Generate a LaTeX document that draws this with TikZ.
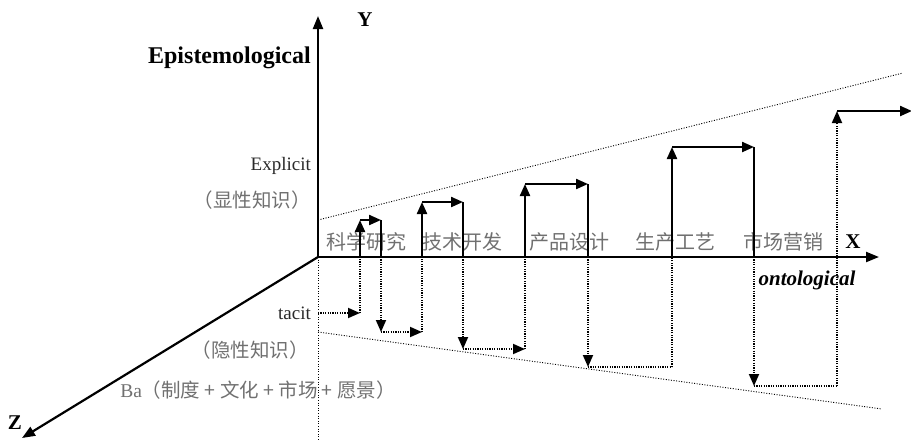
\documentclass[tikz,border=0pt]{standalone}
\usepackage{fontspec}
\setmainfont{Liberation Serif}
\newfontfamily\cjk{Noto Sans CJK SC}
\usetikzlibrary{arrows.meta,positioning}
\definecolor{inkgray}{HTML}{707070}
\definecolor{inkdark}{HTML}{2A2A2A}
\tikzset{
  axis/.style={line width=2.2pt, -{Triangle[length=13pt, width=10pt]}},
  stepline/.style={line width=2.2pt},
  steparrow/.style={line width=2.2pt, -{Triangle[length=12pt, width=10pt]}},
  dotline/.style={line width=1.8pt, dash pattern=on 1.2pt off 1.2pt},
  dotarrow/.style={dotline, -{Triangle[length=12pt, width=10pt]}},
  guide/.style={line width=0.9pt, dash pattern=on 1pt off 1.6pt},
  axislabel/.style={font=\fontsize{21}{24}\selectfont\bfseries, inner sep=0pt},
  latinlabel/.style={font=\fontsize{19}{22}\selectfont, text=inkdark, inner sep=0pt},
  cjklabel/.style={font=\fontsize{19.5}{22}\selectfont\cjk, text=inkgray, inner sep=0pt},
  stagelabel/.style={font=\fontsize{20}{23}\selectfont\cjk, text=inkgray, inner sep=0pt}
}

\begin{document}
\begin{tikzpicture}[x=1pt, y=-1pt]
  \useasboundingbox (0,0) rectangle (911,440);

  % axes and guide lines
  \coordinate (O) at (318,257);
  \coordinate (Ytip) at (318,16);
  \coordinate (Xtip) at (879,257);
  \coordinate (Ztip) at (22,438);
  \coordinate (Obot) at (318,440);
  \coordinate (gu1) at (318,220);
  \coordinate (gu2) at (903,73);
  \coordinate (gl1) at (318,332);
  \coordinate (gl2) at (882,409);

  % step corners
  \coordinate (in1) at (360,313); \coordinate (up1) at (360,257); \coordinate (top1) at (360,220);
  \coordinate (turn1) at (381,220); \coordinate (foot1) at (381,257); \coordinate (low1) at (381,332);
  \coordinate (in2) at (422,332); \coordinate (up2) at (422,257); \coordinate (top2) at (422,202);
  \coordinate (turn2) at (463,202); \coordinate (foot2) at (463,257); \coordinate (low2) at (463,349);
  \coordinate (in3) at (525,349); \coordinate (up3) at (525,257); \coordinate (top3) at (525,184);
  \coordinate (turn3) at (588,184); \coordinate (foot3) at (588,257); \coordinate (low3) at (588,367);
  \coordinate (in4) at (672,367); \coordinate (up4) at (672,257); \coordinate (top4) at (672,147);
  \coordinate (turn4) at (754,147); \coordinate (foot4) at (754,257); \coordinate (low4) at (754,386);
  \coordinate (in5) at (837,386); \coordinate (top5) at (837,111); \coordinate (turn5) at (912,111);

  % labels
  \node[axislabel] (ylab) at (365,20) {Y};
  \node[axislabel] (xlab) at (853,242) {X};
  \node[axislabel] (zlab) at (15,423) {Z};
  \node[axislabel, font=\fontsize{24}{27}\selectfont\bfseries, anchor=east] (episteme) at (311,58) {Epistemological};
  \node[latinlabel, anchor=east] (explicit) at (311,166) {Explicit};
  \node[cjklabel, anchor=east] (explicitcn) at (311,200) {（显性知识）};
  \node[latinlabel, anchor=east] (tacit) at (311,313) {tacit};
  \node[cjklabel, anchor=east] (tacitcn) at (309,350) {（隐性知识）};
  \node[cjklabel] (ba) at (258,390) {{\rmfamily Ba}（制度 + 文化 + 市场 + 愿景）};
  \node[font=\fontsize{21}{24}\selectfont\bfseries\itshape, inner sep=0pt] (onto) at (807,280) {ontological};
  \node[stagelabel] (research) at (366,242) {科学研究};
  \node[stagelabel] (develop) at (462,242) {技术开发};
  \node[stagelabel] (design) at (569,242) {产品设计};
  \node[stagelabel] (process) at (675,242) {生产工艺};
  \node[stagelabel] (market) at (783,242) {市场营销};

  \draw[guide] (gu1) -- (gu2);
  \draw[guide] (gl1) -- (gl2);
  \draw[guide] (O) -- (Obot);

  \draw[axis] (O) -- (Ytip);
  \draw[axis] (O) -- (Xtip);
  \draw[axis] (O) -- (Ztip);

  % tacit -> explicit spiral
  \draw[dotarrow, shorten <=7pt] (tacit.east) -- (in1);
  \draw[dotline] (in1) -- (up1);
  \draw[steparrow] (up1) -- (top1);
  \draw[steparrow] (top1) -- (turn1);
  \draw[stepline] (turn1) -- (foot1);
  \draw[dotarrow] (foot1) -- (low1);
  \draw[dotarrow] (low1) -- (in2);
  \draw[dotline] (in2) -- (up2);
  \draw[steparrow] (up2) -- (top2);
  \draw[steparrow] (top2) -- (turn2);
  \draw[stepline] (turn2) -- (foot2);
  \draw[dotarrow] (foot2) -- (low2);
  \draw[dotarrow] (low2) -- (in3);
  \draw[dotline] (in3) -- (up3);
  \draw[steparrow] (up3) -- (top3);
  \draw[steparrow] (top3) -- (turn3);
  \draw[stepline] (turn3) -- (foot3);
  \draw[dotarrow] (foot3) -- (low3);
  \draw[dotline] (low3) -- (in4);
  \draw[dotline] (in4) -- (up4);
  \draw[steparrow] (up4) -- (top4);
  \draw[steparrow] (top4) -- (turn4);
  \draw[stepline] (turn4) -- (foot4);
  \draw[dotarrow] (foot4) -- (low4);
  \draw[dotline] (low4) -- (in5);
  \draw[dotarrow] (in5) -- (top5);
  \draw[steparrow] (top5) -- (turn5);
\end{tikzpicture}
\end{document}
